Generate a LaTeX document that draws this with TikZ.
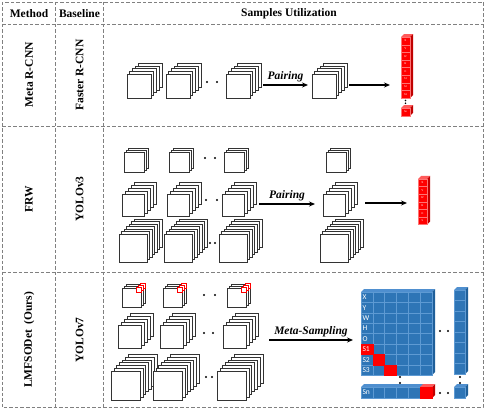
\documentclass[tikz,border=0pt]{standalone}
\usepackage{fontspec}
\setmainfont{Liberation Serif}
\newfontfamily\cellfont{Carlito}
\usepackage{xcolor}
\usetikzlibrary{arrows.meta}
\definecolor{mat_blue}{HTML}{2E75B6}
\definecolor{light_blue}{HTML}{5E9AD3}
\definecolor{top_blue}{HTML}{4F8FCF}
\definecolor{side_blue}{HTML}{1F5F99}
\definecolor{top_red}{HTML}{FF5A5A}
\definecolor{side_red}{HTML}{C00000}

% Pile de cartes de caracteristiques : x, y, cote, nb de couches, decalage
\newcommand{\featstack}[5]{%
  \foreach \k in {#4,...,0}{%
    \draw[couche] ({#1+\k*#5},{#2-\k*#5}) rectangle ++(#3,#3);
  }%
}
% Petits carres rouges dans le coin des couches : x, y, cote, decalage
\newcommand{\markstack}[4]{%
  \foreach \k in {2,1,0}{%
    \draw[red, fill=white, line width=0.5pt] ({#1+#3+\k*#4-4.5},{#2-\k*#4-0.5}) rectangle ++(5,5);
  }%
}

\begin{document}
\begin{tikzpicture}[x=1pt,y=-1pt,
    grille/.style={gray, line width=0.7pt, dash pattern=on 3.5pt off 2pt},
    titre/.style={font=\fontsize{11.5}{13}\selectfont\bfseries, inner sep=0pt},
    couche/.style={fill=white, draw=black!80, line width=0.6pt},
    fleche/.style={-{Stealth[length=6pt,width=5pt]}, line width=1.1pt},
    etiq/.style={font=\fontsize{11.5}{13}\selectfont\bfseries\itshape, above, inner sep=2.5pt},
    petitpoint/.style={circle, fill=black, inner sep=0pt, minimum size=2.4pt},
    rcase/.style={draw=red!55!white, fill=red, line width=0.3pt, minimum width=9pt, minimum height=7.6pt, inner sep=0pt, text=white, font=\fontsize{2.8}{3}\selectfont},
    bcase/.style={draw=light_blue, fill=mat_blue, line width=0.4pt, minimum width=11.8pt, minimum height=10.4pt, inner sep=0pt},
    blab/.style={text=white, font=\cellfont\fontsize{7.5}{8}\selectfont, inner sep=0pt}
]
        \useasboundingbox (0,0) rectangle (485,409);
        % Tableau
        \draw[grille] (2,2) rectangle (483,407);
        \foreach \x in {55,103} {\draw[grille] (\x,2) -- (\x,407);}
        \foreach \y in {24,126,272} {\draw[grille] (2,\y) -- (483,\y);}

        % En-tetes
        \node[titre] (hmeth) at (29,14) {Method};
        \node[titre] (hbase) at (79.5,14) {Baseline};
        \node[titre] (hsamp) at (289,14) {Samples Utilization};

        % Methodes et baselines
        \foreach \n/\y/\meth/\base in {1/75/{Meta R-CNN}/{Faster R-CNN}, 2/199/{FRW}/{YOLOv3}, 3/340/{LMFSODet\hspace{0.45em}(Ours)}/{YOLOv7}} {
        \node[titre, rotate=90] (meth\n) at (29,\y) {\meth};
        \node[titre, rotate=90] (base\n) at (79.5,\y) {\base};
        }

        % Ligne 1 : Meta R-CNN
        \foreach \x in {127,166,226,312} {\featstack{\x}{74}{24}{4}{2.7}}
        \node[petitpoint] (d1a) at (207,82) {};
        \node[petitpoint] (d1b) at (217,82) {};
        \coordinate (f1a) at (263,85);
        \coordinate (f1b) at (308,85);
        \draw[fleche] (f1a) -- node[etiq] (e1) {Pairing} (f1b);
        \coordinate (g1a) at (349,85);
        \coordinate (g1b) at (390,85);
        \draw[fleche] (g1a) -- (g1b);
        % Colonne rouge
        \fill[top_red] (401,37.2) -- (404,34.2) -- (413,34.2) -- (410,37.2) -- cycle;
        \fill[side_red] (410,37.2) -- (413,34.2) -- (413,95) -- (410,98) -- cycle;
        \foreach \i/\lab in {0/X,1/Y,2/W,3/H,4/O,5/S1,6/S2,7/S3} {
        \node[rcase] (r1c\i) at (405.5,{41+\i*7.6}) {\lab};
        }
        \node[circle, fill=black, inner sep=0pt, minimum size=1.8pt] (r1pa) at (405.5,100.5) {};
        \node[circle, fill=black, inner sep=0pt, minimum size=1.8pt] (r1pb) at (405.5,103.3) {};
        \fill[top_red] (401,108.2) -- (404,105.2) -- (413,105.2) -- (410,108.2) -- cycle;
        \fill[side_red] (410,108.2) -- (413,105.2) -- (413,112.8) -- (410,115.8) -- cycle;
        \node[rcase] (r1cn) at (405.5,112) {Sn};

        % Ligne 2 : FRW
        \foreach \x in {124,169,224,326} {\featstack{\x}{152}{20}{2}{2}}
        \foreach \x in {122,167,222,323} {\featstack{\x}{194}{22}{4}{3}}
        \foreach \x in {119,164,219,320} {\featstack{\x}{234}{28}{6}{2.5}}
        \foreach \n/\x/\y in {a/205/158, b/215/158, c/206/200, d/217/200, e/210/243, f/215/243} {
        \node[petitpoint] (d2\n) at (\x,\y) {};
        }
        \coordinate (f2a) at (259,204);
        \coordinate (f2b) at (315,204);
        \draw[fleche] (f2a) -- node[etiq] (e2) {Pairing} (f2b);
        \coordinate (g2a) at (365,203);
        \coordinate (g2b) at (407,203);
        \draw[fleche] (g2a) -- (g2b);
        % Colonne rouge
        \fill[top_red] (418,179) -- (421,176) -- (430,176) -- (427,179) -- cycle;
        \fill[side_red] (427,179) -- (430,176) -- (430,221.6) -- (427,224.6) -- cycle;
        \foreach \i/\lab in {0/X,1/Y,2/W,3/H,4/O,5/S} {
        \node[rcase] (r2c\i) at (422.5,{182.8+\i*7.6}) {\lab};
        }

        % Ligne 3 : LMFSODet
        \foreach \x in {122,163,227} {\featstack{\x}{288}{19}{2}{2}\markstack{\x}{288}{19}{2}}
        \foreach \x in {118,160,223} {\featstack{\x}{325}{23}{4}{3}}
        \foreach \x in {111,153,217} {\featstack{\x}{371}{29}{6}{2.8}}
        \foreach \n/\x/\y in {a/204/295, b/215/295, c/204/333, d/213/333, e/206/377, f/212/377} {
        \node[petitpoint] (d3\n) at (\x,\y) {};
        }
        \coordinate (f3a) at (269,340);
        \coordinate (f3b) at (353,340);
        \draw[fleche] (f3a) -- node[etiq] (e3) {Meta-Sampling} (f3b);

        % Matrice bleue
        \fill[top_blue] (361,292) -- (364,289) -- (435,289) -- (432,292) -- cycle;
        \fill[side_blue] (432,292) -- (435,289) -- (435,372) -- (432,375) -- cycle;
        \foreach \r in {0,...,7} {
        \foreach \c in {0,...,5} {
        \node[bcase] (m\r-\c) at ({366.9+\c*11.8},{297.2+\r*10.4}) {};
        }
        }
        \foreach \r/\c in {5/0, 6/1, 7/2} {
        \node[bcase, fill=red, draw=red] (s\r-\c) at (m\r-\c) {};
        }
        \foreach \r/\lab in {0/X,1/Y,2/W,3/H,4/O,5/S1,6/S2,7/S3} {
        \node[blab, anchor=west] (l\r) at ([xshift=1.5pt]m\r-0.west) {\lab};
        }
        % Ligne Sn
        \fill[top_blue] (361,387) -- (364,384) -- (435,384) -- (432,387) -- cycle;
        \fill[side_red] (432,387) -- (435,384) -- (435,395) -- (432,398) -- cycle;
        \fill[top_red] (420.2,387) -- (423.2,384) -- (435,384) -- (432,387) -- cycle;
        \foreach \c in {0,...,5} {
        \node[bcase, minimum height=11pt] (n\c) at ({366.9+\c*11.8},392.5) {};
        }
        \node[bcase, minimum height=11pt, fill=red, draw=red] (nr) at (n5) {};
        \node[blab, anchor=west] (ln) at ([xshift=1.5pt]n0.west) {Sn};
        % Colonne de droite
        \fill[top_blue] (454,290) -- (457,287) -- (468,287) -- (465,290) -- cycle;
        \fill[side_blue] (465,290) -- (468,287) -- (468,371) -- (465,374) -- cycle;
        \foreach \r in {0,...,7} {
        \node[bcase, minimum width=11pt, minimum height=10.5pt] (k\r) at (459.5,{295.25+\r*10.5}) {};
        }
        \fill[top_blue] (454,387) -- (457,384) -- (468,384) -- (465,387) -- cycle;
        \fill[side_blue] (465,387) -- (468,384) -- (468,395) -- (465,398) -- cycle;
        \node[bcase, minimum width=11pt, minimum height=11pt] (kn) at (459.5,392.5) {};
        % Points de suspension
        \foreach \n/\x/\y in {a/440/331, b/448/331, c/440/393, d/448/393, e/400/377, f/400/383, g/460/377, h/460/383} {
        \node[petitpoint] (p\n) at (\x,\y) {};
        }
\end{tikzpicture}
\end{document}
